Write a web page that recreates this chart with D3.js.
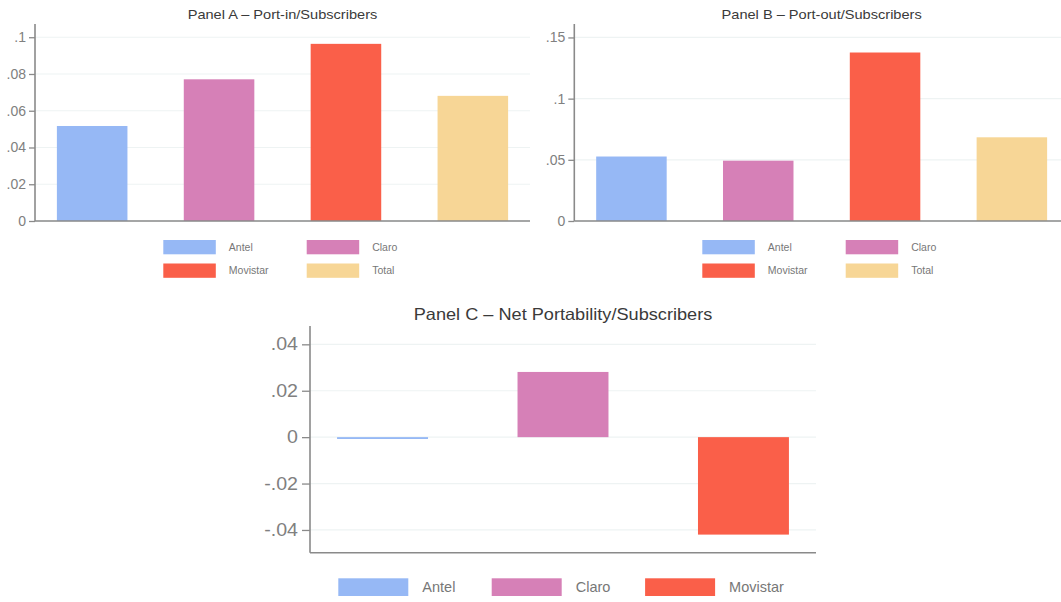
<!DOCTYPE html>
<html><head><meta charset="utf-8">
<script src="https://cdn.jsdelivr.net/npm/d3@7"></script>
<style>
html,body{margin:0;padding:0;background:#fff;}
svg{display:block;font-family:"Liberation Sans",Arial,sans-serif;}
</style></head><body>
<svg id="chart" width="1061" height="602"></svg>
<script>
// ---- data ----
const categoriesAB = ["Antel", "Claro", "Movistar", "Total"];
const categoriesC = ["Antel", "Claro", "Movistar"];
const portIn = [0.0517, 0.0771, 0.0964, 0.0681];
const portOut = [0.0527, 0.0493, 0.1377, 0.0684];
const netPort = [-0.0008, 0.0281, -0.0420];
const ticksA = [0, 0.02, 0.04, 0.06, 0.08, 0.1];
const tickLabelsA = ["0", ".02", ".04", ".06", ".08", ".1"];
const ticksB = [0, 0.05, 0.1, 0.15];
const tickLabelsB = ["0", ".05", ".1", ".15"];
const ticksC = [-0.04, -0.02, 0, 0.02, 0.04];
const tickLabelsC = ["-.04", "-.02", "0", ".02", ".04"];
const titles = ["Panel A \u2013 Port-in/Subscribers", "Panel B \u2013 Port-out/Subscribers", "Panel C \u2013 Net Portability/Subscribers"];
const colors = {Antel: "#96b8f5", Claro: "#d680b7", Movistar: "#fa5f49", Total: "#f7d696"};

const svg = d3.select("#chart");
const axisColor = "#8a8a8a", gridColor = "#eef3f3", labelColor = "#808080";

function stretch(sel, k) {
  sel.each(function () {
    const len = this.getComputedTextLength();
    d3.select(this).attr("textLength", len * k).attr("lengthAdjust", "spacingAndGlyphs");
  });
}

function panel(o) {
  const g = svg.append("g");
  const x = d3.scaleBand().domain(o.cats).range([o.x0, o.x1]).paddingInner(o.pi).paddingOuter(o.po);
  const y = d3.scaleLinear().domain(o.domain).range([o.yBottom, o.yTop]);
  // grid
  g.selectAll(".grid").data(o.ticks).join("line")
    .attr("x1", o.x0).attr("x2", o.x1)
    .attr("y1", d => y(d)).attr("y2", d => y(d))
    .attr("stroke", gridColor).attr("stroke-width", 1.2);
  // bars
  g.selectAll(".bar").data(o.cats.map((c, i) => ({c, v: o.values[i]}))).join("rect")
    .attr("x", d => x(d.c)).attr("width", x.bandwidth())
    .attr("y", d => y(Math.max(0, d.v)))
    .attr("height", d => Math.max(1.5, Math.abs(y(d.v) - y(0))))
    .attr("fill", d => colors[d.c]);
  // y axis
  const ax = d3.axisLeft(y).tickValues(o.ticks).tickFormat((d, i) => o.labels[i]).tickSize(o.tickSize).tickPadding(o.tickPad);
  const ag = g.append("g").attr("transform", `translate(${o.x0},0)`).call(ax);
  ag.select(".domain").remove();
  ag.selectAll(".tick line").attr("stroke", axisColor).attr("stroke-width", 1.3);
  const tt = ag.selectAll(".tick text").attr("fill", labelColor).attr("font-size", o.tickFont)
    .attr("font-family", "'Liberation Sans', Arial, sans-serif");
  stretch(tt, o.tickStretch);
  g.append("line").attr("x1", o.x0).attr("x2", o.x0).attr("y1", o.yTop).attr("y2", o.yBottom)
    .attr("stroke", axisColor).attr("stroke-width", 1.6);
  g.append("line").attr("x1", o.x0).attr("x2", o.x1).attr("y1", o.yBottom).attr("y2", o.yBottom)
    .attr("stroke", axisColor).attr("stroke-width", 1.6);
  // title
  const t = g.append("text").attr("x", (o.x0 + o.x1) / 2).attr("y", o.titleY).attr("text-anchor", "middle")
    .attr("font-size", o.titleFont).attr("fill", "#3a3a3a").text(o.title);
  stretch(t, o.titleStretch);
  // legend
  const lg = g.append("g");
  o.cats.forEach((c, i) => {
    const col = i % o.legCols, row = Math.floor(i / o.legCols);
    const lx = o.legX + col * o.legColStep, ly = o.legY + row * o.legRowStep;
    lg.append("rect").attr("x", lx).attr("y", ly).attr("width", o.swW).attr("height", o.swH).attr("fill", colors[c]);
    lg.append("text").attr("x", lx + o.txtOff).attr("y", ly + o.swH / 2).attr("dy", "0.35em")
      .attr("font-size", o.legFont).attr("fill", "#777").text(c);
  });
}

panel({cats: categoriesAB, values: portIn, ticks: ticksA, labels: tickLabelsA,
  x0: 35, x1: 530, pi: 0.444, po: 0.1725, domain: [0, 0.1072], yBottom: 221, yTop: 24,
  tickSize: 6, tickPad: 3, tickFont: "14px", tickStretch: 1.0, title: titles[0], titleY: 18.5, titleFont: "13.5px", titleStretch: 1.08,
  legCols: 2, legX: 163.3, legY: 240, legColStep: 143.4, legRowStep: 23.5, swW: 52.5, swH: 14.3, txtOff: 65.5, legFont: "10.5px"});

panel({cats: categoriesAB, values: portOut, ticks: ticksB, labels: tickLabelsB,
  x0: 574.3, x1: 1069, pi: 0.444, po: 0.1725, domain: [0, 0.161], yBottom: 221, yTop: 24,
  tickSize: 6, tickPad: 3, tickFont: "14px", tickStretch: 1.0, title: titles[1], titleY: 18.5, titleFont: "13.5px", titleStretch: 1.08,
  legCols: 2, legX: 702.3, legY: 240, legColStep: 143.4, legRowStep: 23.5, swW: 52.5, swH: 14.3, txtOff: 65.5, legFont: "10.5px"});

panel({cats: categoriesC, values: netPort, ticks: ticksC, labels: tickLabelsC,
  x0: 310, x1: 816, pi: 0.496, po: 0.15, domain: [-0.0498, 0.0479], yBottom: 552.7, yTop: 326,
  tickSize: 8, tickPad: 4, tickFont: "17.5px", tickStretch: 1.12, title: titles[2], titleY: 319.5, titleFont: "16.5px", titleStretch: 1.1,
  legCols: 3, legX: 338.3, legY: 578.3, legColStep: 153.4, legRowStep: 0, swW: 70, swH: 17.7, txtOff: 84, legFont: "14.5px"});
</script>
</body></html>
